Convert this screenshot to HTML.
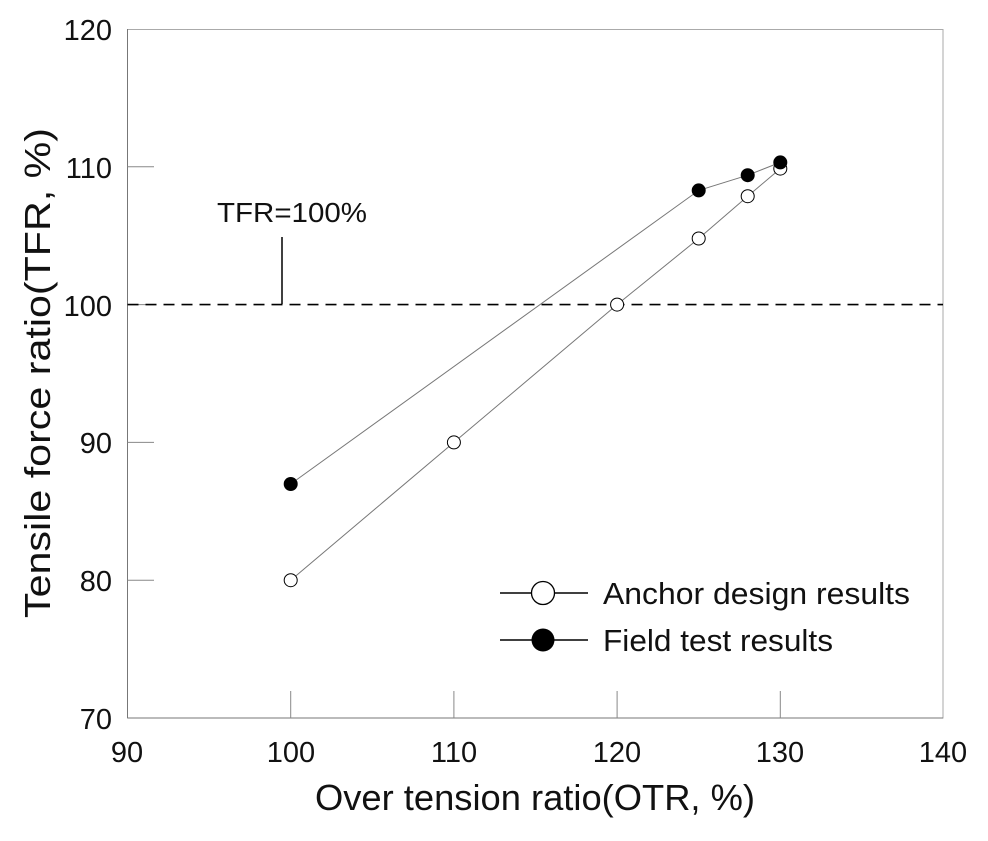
<!DOCTYPE html><html><head><style>body{margin:0;background:#fff}svg text{font-family:"Liberation Sans","NanumGothic",sans-serif;fill:#111}</style></head><body>
<svg width="988" height="836" viewBox="0 0 988 836">
<rect x="127.5" y="29.5" width="815.5" height="688.5" fill="none" stroke="#aaa" stroke-width="1"/>
<g stroke="#888" stroke-width="1">
<line x1="127.5" y1="718" x2="943" y2="718" stroke="#777"/>
<line x1="127.5" y1="29" x2="127.5" y2="718" stroke="#777"/>
<line x1="290.7" y1="718" x2="290.7" y2="691"/><line x1="453.9" y1="718" x2="453.9" y2="691"/><line x1="617.1" y1="718" x2="617.1" y2="691"/><line x1="780.3" y1="718" x2="780.3" y2="691"/>
<line x1="127.5" y1="580.2" x2="154" y2="580.2"/><line x1="127.5" y1="442.4" x2="154" y2="442.4"/><line x1="127.5" y1="304.6" x2="154" y2="304.6"/><line x1="127.5" y1="166.8" x2="154" y2="166.8"/>
</g>
<g font-size="29" text-anchor="end"><text x="112" y="729">70</text><text x="112" y="591">80</text><text x="112" y="453">90</text><text x="112" y="316">100</text><text x="112" y="178">110</text><text x="112" y="40">120</text></g>
<g font-size="29" text-anchor="middle"><text x="127" y="762">90</text><text x="291" y="762">100</text><text x="454" y="762">110</text><text x="617" y="762">120</text><text x="780" y="762">130</text><text x="943" y="762">140</text></g>
<text x="315" y="810" font-size="36" textLength="440" lengthAdjust="spacingAndGlyphs">Over tension ratio(OTR, %)</text>
<text transform="translate(50,373) rotate(-90)" font-size="36" text-anchor="middle" textLength="490" lengthAdjust="spacingAndGlyphs">Tensile force ratio(TFR, %)</text>
<line x1="127.5" y1="304.6" x2="943" y2="304.6" stroke="#000" stroke-width="1.6" stroke-dasharray="11,7"/>
<line x1="282" y1="237" x2="282" y2="304" stroke="#000" stroke-width="1.5"/>
<text x="217" y="222" font-size="28" textLength="150" lengthAdjust="spacingAndGlyphs">TFR=100%</text>
<polyline points="290.7,580.2 453.9,442.4 617.1,304.6 698.7,238.5 747.7,196.2 780.3,168.6" fill="none" stroke="#777" stroke-width="1"/>
<polyline points="290.7,484 698.7,190.4 747.7,175.2 780.3,162.4" fill="none" stroke="#777" stroke-width="1"/>
<g fill="#fff" stroke="#000" stroke-width="1"><circle cx="290.7" cy="580.2" r="6.5"/><circle cx="453.9" cy="442.4" r="6.5"/><circle cx="617.1" cy="304.6" r="6.5"/><circle cx="698.7" cy="238.5" r="6.5"/><circle cx="747.7" cy="196.2" r="6.5"/><circle cx="780.3" cy="168.6" r="6.5"/></g>
<g fill="#000"><circle cx="290.7" cy="484" r="7"/><circle cx="698.7" cy="190.4" r="7"/><circle cx="747.7" cy="175.2" r="7"/><circle cx="780.3" cy="162.4" r="7"/></g>
<line x1="500" y1="593" x2="588" y2="593" stroke="#000" stroke-width="1.5"/><circle cx="543" cy="593" r="11.5" fill="#fff" stroke="#000" stroke-width="1.3"/>
<line x1="500" y1="640" x2="588" y2="640" stroke="#000" stroke-width="1.5"/><circle cx="543" cy="640" r="11.5" fill="#000"/>
<text x="603" y="604" font-size="31" textLength="307" lengthAdjust="spacingAndGlyphs">Anchor design results</text>
<text x="603" y="651" font-size="31" textLength="230" lengthAdjust="spacingAndGlyphs">Field test results</text>
</svg></body></html>
